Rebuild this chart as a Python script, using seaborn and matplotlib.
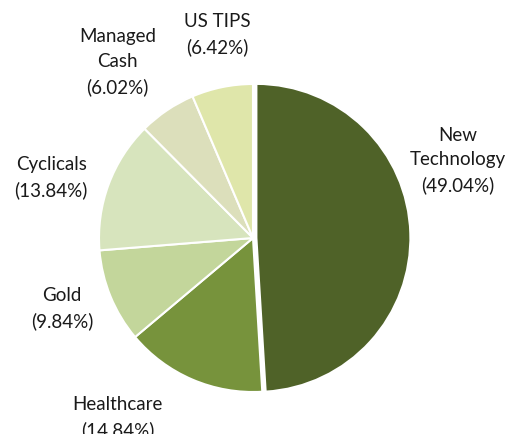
import matplotlib
matplotlib.use('Agg')
import matplotlib.pyplot as plt
import seaborn as sns

sns.set_style('white')
plt.rcParams['font.family'] = ['Lato', 'DejaVu Sans']

# data, clockwise from 12 o'clock
categories = ['New\nTechnology', 'Healthcare', 'Gold', 'Cyclicals', 'Managed\nCash', 'US TIPS']
shares = [49.04, 14.84, 9.84, 13.84, 6.02, 6.42]
colors = ['#4F6228', '#77933C', '#C3D69B', '#D7E4BD', '#DCDFBB', '#DFE6AA']
explode = [0.022, 0, 0, 0, 0, 0]

# label anchor points (pie radius = 1)
label_pos = [(1.33, 0.51), (-0.88, -1.16), (-1.24, -0.45),
             (-1.31, 0.40), (-0.88, 1.15), (-0.23, 1.33)]

fig = plt.figure(figsize=(5.1, 4.35), dpi=100)
ax = fig.add_axes([0, 0, 1, 1])

wedges, _ = ax.pie(shares, colors=colors, explode=explode, startangle=90,
                   counterclock=False, radius=1.0,
                   wedgeprops=dict(edgecolor='white', linewidth=1.5))

for name, val, (x, y) in zip(categories, shares, label_pos):
    ax.text(x, y, f'{name}\n({val:.2f}%)', ha='center', va='center',
            fontsize=13.5, color='#1a1a1a', linespacing=1.55)

# 1 unit = 154 px, pie centre at (253, 239) px
ax.set_xlim(-253 / 154, 257 / 154)
ax.set_ylim(-(435 - 239) / 154, 239 / 154)
ax.set_aspect('auto')
ax.axis('off')

plt.savefig('out.png', dpi=100)
plt.close()
